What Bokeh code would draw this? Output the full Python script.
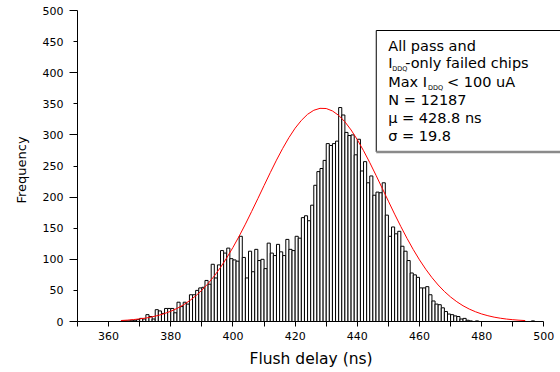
from bokeh.plotting import figure
from bokeh.models import (Range1d, LinearAxis, FixedTicker, Label, Title,
                          CustomLabelingPolicy)
from bokeh.embed import file_html
from bokeh.resources import INLINE

# ---------------- data ----------------
bin_left = list(range(364, 497))          # 1-ns bins [k, k+1)
freq = [1, 1, 1, 2, 2, 3, 5, 4, 11, 8, 4, 19, 17, 13, 21, 21, 21, 14, 31, 24, 31,      # 364-384
        28, 43, 43, 50, 54, 55, 66, 60, 92, 70, 91, 114, 110, 118, 101, 99, 97, 137,   # 385-402
        103, 70, 113, 80, 116,                                                          # 403-407
        98, 100, 85, 126, 110, 106, 124, 112, 106, 132, 116, 114, 137, 134, 167, 170,  # 408-423
        162, 187, 219, 241,                                                             # 424-427
        246, 259, 286, 283, 286, 290, 344, 332, 304, 299, 300, 268, 293, 242, 257, 223, # 428-443
        234, 203, 208, 207, 223,                                                        # 444-448
        171, 137, 152, 141, 145, 121, 113, 98, 78, 75, 71, 54, 54, 56, 43, 33, 28, 27,  # 449-466
        22, 16, 12, 11, 9, 8, 4, 5, 2, 1, 0, 1,                                         # 467-478
        0, 0, 0, 0, 0, 0, 0, 0, 0, 0, 0, 0, 0, 0, 0, 0, 0, 1]                           # 479-496

# fitted normal curve, every 2 ns
curve_x = list(range(364, 495, 2))
curve_y = [1.6, 2.2, 3.1, 4.2, 5.6, 7.5, 9.8, 12.8, 16.5, 21.0, 26.5, 33.2, 41.1, 50.3,
           61.0, 73.2, 87.0, 102.3, 119.1, 137.2, 156.5, 176.8, 197.5, 218.5, 239.3,
           259.4, 278.3, 295.6, 310.8, 323.3, 333.1, 339.6, 342.7, 342.4, 338.5, 331.4,
           321.1, 307.9, 292.3, 274.6, 255.5, 235.2, 214.3, 193.4, 172.6, 152.6, 133.5,
           115.6, 99.1, 84.1, 70.6, 58.7, 48.3, 39.4, 31.8, 25.3, 20.0, 15.7, 12.1, 9.3,
           7.0, 5.3, 3.9, 2.9, 2.1, 1.5]

x_major = [360, 380, 400, 420, 440, 460, 480, 500]
x_minor = [350, 370, 390, 410, 430, 450, 470, 490]
y_major = [0, 100, 200, 300, 400, 500]
y_minor = [50, 150, 250, 350, 450]
y_labels = [0, 50, 100, 150, 200, 250, 300, 350, 400, 450, 500]

x_title = "Flush delay (ns)"
y_title = "Frequency"
box_lines = ["All pass and", "N = 12187", "\u03bc = 428.8 ns", "\u03c3 = 19.8"]

# ---------------- layout helpers (canvas pixels -> data) ----------------
FONT = "DejaVu Sans"
X_AT_LEFT, PX_LEFT, X_PX = 350.0, 75.0, 3.122
PX_BOTTOM, Y_PX = 321.0, 0.622
W, H = 560, 372


def px_x(cx):
    return X_AT_LEFT + (cx - PX_LEFT) / X_PX


def px_y(cy):
    return (PX_BOTTOM - cy) / Y_PX


p = figure(width=W, height=H, output_backend="svg", toolbar_location=None,
           x_range=Range1d(350, px_x(W)), y_range=Range1d(0, 500),
           x_axis_type=None, y_axis_type=None,
           min_border_left=75, min_border_right=0, min_border_top=10,
           min_border_bottom=H - 321)
p.outline_line_color = None
p.background_fill_color = "white"
p.border_fill_color = "white"

# bottom axis
xax = LinearAxis(ticker=FixedTicker(ticks=x_major, minor_ticks=x_minor),
                 bounds=(350, 500),
                 major_tick_out=5, major_tick_in=0, minor_tick_out=5, minor_tick_in=0,
                 major_label_standoff=5,
                 major_label_text_font=FONT, major_label_text_font_size="11px",
                 major_label_text_color="black",
                 axis_line_color="black", major_tick_line_color="black",
                 minor_tick_line_color="black")
p.add_layout(xax, "below")

# left axis 1: tick marks only (major every 100, minor every 50)
hide_all = CustomLabelingPolicy(
    code="const all = [...indices]; for (const i of all) indices.unset(i); return indices")
yax_ticks = LinearAxis(ticker=FixedTicker(ticks=y_major, minor_ticks=y_minor),
                       bounds=(0, 500), major_label_policy=hide_all,
                       major_label_text_font_size="0px",
                       major_tick_out=8, major_tick_in=0, minor_tick_out=4, minor_tick_in=0,
                       major_label_standoff=0,
                       axis_line_color="black", major_tick_line_color="black",
                       minor_tick_line_color="black")
p.add_layout(yax_ticks, "left")
# left axis 2: labels every 50
yax_labels = LinearAxis(ticker=FixedTicker(ticks=y_labels, minor_ticks=[]),
                        axis_line_color=None, major_tick_line_color=None,
                        minor_tick_line_color=None,
                        major_tick_out=0, major_tick_in=0, major_label_standoff=6,
                        major_label_text_font=FONT, major_label_text_font_size="11px",
                        major_label_text_color="black")
p.add_layout(yax_labels, "left")

# axis titles
p.add_layout(Title(text=y_title, align="left", offset=118, standoff=22,
                   text_font=FONT, text_font_size="13px", text_font_style="normal",
                   text_color="black"), "left")
p.add_layout(Title(text=x_title, align="left", offset=172, standoff=10,
                   vertical_align="bottom",
                   text_font=FONT, text_font_size="15.5px", text_font_style="normal",
                   text_color="black"), "below")

# histogram
p.quad(left=bin_left, right=[b + 1 for b in bin_left], bottom=0, top=freq,
       fill_color="white", line_color="black", line_width=1)

# fitted curve
p.line(curve_x, curve_y, line_color="red", line_width=1)

# info box
bx0, bx1 = px_x(375), px_x(W + 20)
by0, by1 = px_y(151.5), px_y(30)
p.quad(left=[bx0], right=[bx1], bottom=[by0], top=[by1], fill_color="white",
       line_color=None)
p.segment(x0=[bx0, bx0], y0=[by1, by1], x1=[bx1, bx0], y1=[by1, by0],
          line_color="black", line_width=1)
p.segment(x0=[bx0], y0=[by0], x1=[bx1], y1=[by0], line_color="#8a8a8a", line_width=2.5)

FS, SUB = "14.5px", "6.5px"


def lab(text, cx, cy, size=FS):
    p.add_layout(Label(x=px_x(cx), y=px_y(cy), text=text, text_font=FONT,
                       text_font_size=size, text_color="black", text_align="left",
                       text_baseline="middle"))


lab(box_lines[0], 387, 45)
lab("I", 387, 62)
lab("DDQ", 391, 68, size=SUB)
lab("-only failed chips", 404, 62)
lab("Max I", 387, 81)
lab("DDQ", 427, 87, size=SUB)
lab("< 100 uA", 446, 81)
lab(box_lines[1], 387, 99)
lab(box_lines[2], 387, 117)
lab(box_lines[3], 387, 135)

open("out.html", "w").write(file_html(p, INLINE))
